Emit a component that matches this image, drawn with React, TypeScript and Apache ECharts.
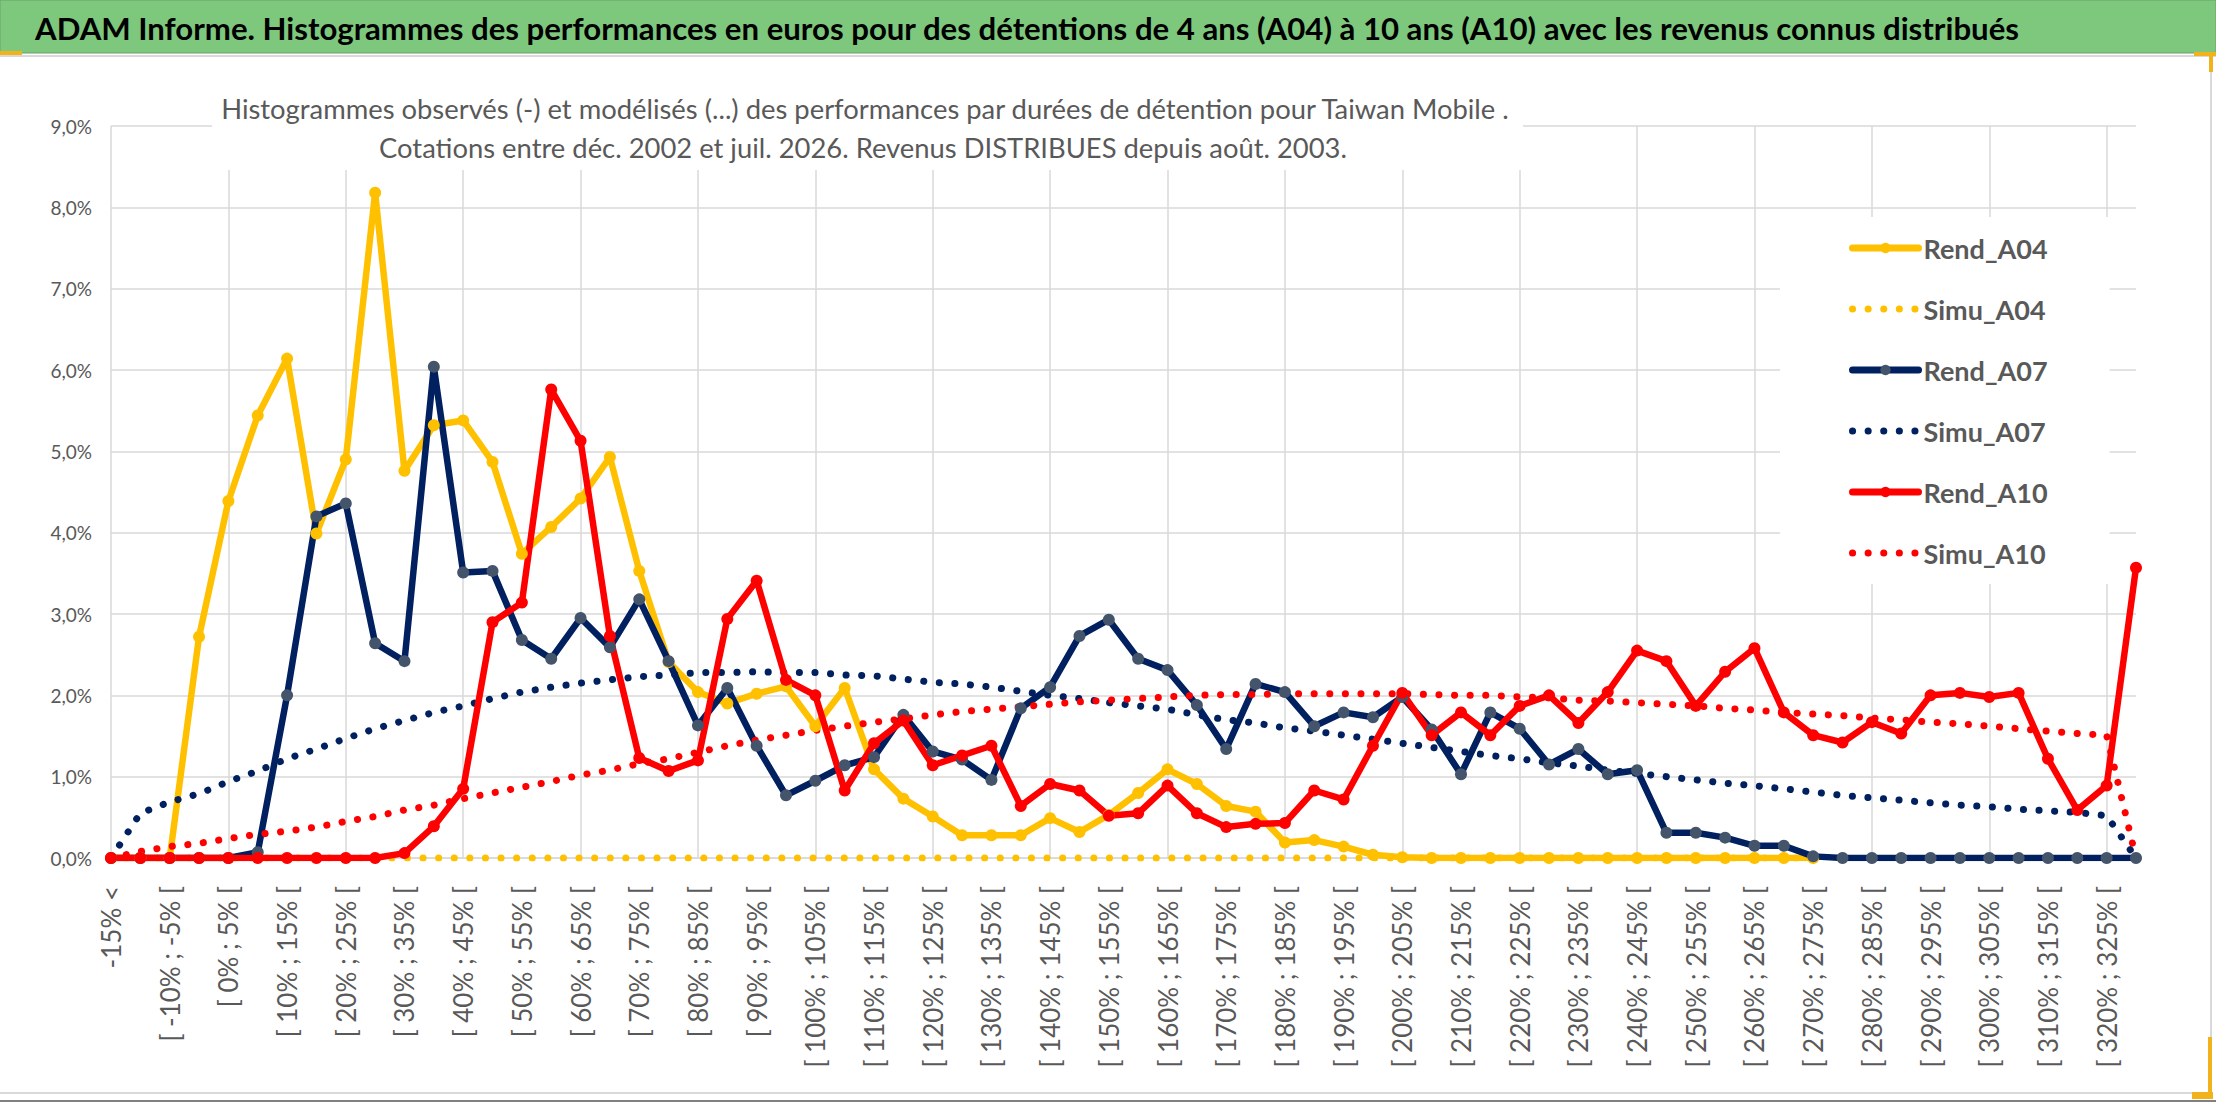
import React, { useEffect, useRef } from "react";
import * as echarts from "echarts";

const categories = [
  "-15% <",
  "[ -15% ; -10% [", "[ -10% ; -5% [", "[ -5% ; 0% [", "[ 0% ; 5% [", "[ 5% ; 10% [",
  "[ 10% ; 15% [", "[ 15% ; 20% [", "[ 20% ; 25% [", "[ 25% ; 30% [", "[ 30% ; 35% [",
  "[ 35% ; 40% [", "[ 40% ; 45% [", "[ 45% ; 50% [", "[ 50% ; 55% [", "[ 55% ; 60% [",
  "[ 60% ; 65% [", "[ 65% ; 70% [", "[ 70% ; 75% [", "[ 75% ; 80% [", "[ 80% ; 85% [",
  "[ 85% ; 90% [", "[ 90% ; 95% [", "[ 95% ; 100% [", "[ 100% ; 105% [", "[ 105% ; 110% [",
  "[ 110% ; 115% [", "[ 115% ; 120% [", "[ 120% ; 125% [", "[ 125% ; 130% [", "[ 130% ; 135% [",
  "[ 135% ; 140% [", "[ 140% ; 145% [", "[ 145% ; 150% [", "[ 150% ; 155% [", "[ 155% ; 160% [",
  "[ 160% ; 165% [", "[ 165% ; 170% [", "[ 170% ; 175% [", "[ 175% ; 180% [", "[ 180% ; 185% [",
  "[ 185% ; 190% [", "[ 190% ; 195% [", "[ 195% ; 200% [", "[ 200% ; 205% [", "[ 205% ; 210% [",
  "[ 210% ; 215% [", "[ 215% ; 220% [", "[ 220% ; 225% [", "[ 225% ; 230% [", "[ 230% ; 235% [",
  "[ 235% ; 240% [", "[ 240% ; 245% [", "[ 245% ; 250% [", "[ 250% ; 255% [", "[ 255% ; 260% [",
  "[ 260% ; 265% [", "[ 265% ; 270% [", "[ 270% ; 275% [", "[ 275% ; 280% [", "[ 280% ; 285% [",
  "[ 285% ; 290% [", "[ 290% ; 295% [", "[ 295% ; 300% [", "[ 300% ; 305% [", "[ 305% ; 310% [",
  "[ 310% ; 315% [", "[ 315% ; 320% [", "[ 320% ; 325% [", "[ 325% ; 330% [",
];

const rendA04 = [
  0, 0, 0, 2.72, 4.39, 5.44, 6.14, 3.99, 4.9, 8.18,
  4.76, 5.32, 5.38, 4.87, 3.74, 4.07, 4.42, 4.93, 3.53, 2.41,
  2.04, 1.9, 2.02, 2.11, 1.62, 2.09, 1.09, 0.73, 0.51, 0.28,
  0.28, 0.28, 0.49, 0.32, 0.53, 0.8, 1.09, 0.91, 0.64, 0.57,
  0.19, 0.22, 0.14, 0.04, 0.01, 0, 0, 0, 0, 0,
  0, 0, 0, 0, 0, 0, 0, 0, 0, null,
  null, null, null, null, null, null, null, null, null, null,
];

const simuA04 = [
  0, 0, 0, 0, 0, 0, 0, 0, 0, 0,
  0, 0, 0, 0, 0, 0, 0, 0, 0, 0,
  0, 0, 0, 0, 0, 0, 0, 0, 0, 0,
  0, 0, 0, 0, 0, 0, 0, 0, 0, 0,
  0, 0, 0, 0, 0, 0, 0, 0, 0, 0,
  0, 0, 0, 0, 0, 0, 0, 0, 0, null,
  null, null, null, null, null, null, null, null, null, null,
];

const rendA07 = [
  0, 0, 0, 0, 0, 0.07, 2.0, 4.2, 4.36, 2.64,
  2.42, 6.04, 3.51, 3.53, 2.68, 2.45, 2.95, 2.59, 3.18, 2.42,
  1.63, 2.09, 1.38, 0.77, 0.95, 1.14, 1.24, 1.76, 1.31, 1.21,
  0.96, 1.84, 2.1, 2.73, 2.93, 2.45, 2.31, 1.88, 1.34, 2.14,
  2.04, 1.62, 1.79, 1.73, 1.98, 1.58, 1.03, 1.79, 1.59, 1.15,
  1.34, 1.03, 1.08, 0.31, 0.31, 0.25, 0.15, 0.15, 0.02, 0,
  0, 0, 0, 0, 0, 0, 0, 0, 0, 0,
];

const simuA07 = [
  0, 0.55, 0.69, 0.79, 0.94, 1.07, 1.22, 1.34, 1.47, 1.59,
  1.69, 1.79, 1.87, 1.96, 2.04, 2.1, 2.15, 2.19, 2.23, 2.25,
  2.28, 2.28, 2.29, 2.28, 2.28, 2.25, 2.24, 2.2, 2.16, 2.14,
  2.1, 2.05, 2.0, 1.96, 1.91, 1.87, 1.83, 1.76, 1.7, 1.66,
  1.6, 1.56, 1.51, 1.46, 1.41, 1.36, 1.31, 1.26, 1.22, 1.17,
  1.13, 1.08, 1.04, 1.0, 0.96, 0.92, 0.89, 0.85, 0.81, 0.77,
  0.74, 0.71, 0.68, 0.65, 0.63, 0.6, 0.58, 0.56, 0.52, 0,
];

const rendA10 = [
  0, 0, 0, 0, 0, 0, 0, 0, 0, 0,
  0.06, 0.39, 0.85, 2.9, 3.14, 5.76, 5.13, 2.73, 1.23, 1.07,
  1.2, 2.94, 3.41, 2.19, 2.0, 0.83, 1.41, 1.69, 1.14, 1.26,
  1.38, 0.64, 0.91, 0.83, 0.52, 0.55, 0.89, 0.55, 0.38, 0.42,
  0.43, 0.83, 0.72, 1.38, 2.03, 1.51, 1.79, 1.51, 1.87, 2.0,
  1.66, 2.04, 2.55, 2.42, 1.87, 2.29, 2.58, 1.79, 1.51, 1.42,
  1.67, 1.53, 2.0, 2.03, 1.98, 2.03, 1.22, 0.59, 0.89, 3.57,
];

const simuA10 = [
  0, 0.08, 0.14, 0.18, 0.24, 0.29, 0.33, 0.38, 0.45, 0.51,
  0.59, 0.65, 0.73, 0.8, 0.87, 0.94, 1.02, 1.08, 1.16, 1.22,
  1.3, 1.38, 1.45, 1.51, 1.57, 1.62, 1.67, 1.71, 1.76, 1.8,
  1.83, 1.86, 1.89, 1.92, 1.94, 1.96, 1.98, 2.0, 2.01, 2.01,
  2.02, 2.02, 2.02, 2.02, 2.02, 2.01, 2.0, 2.0, 1.98, 1.97,
  1.94, 1.93, 1.91, 1.89, 1.87, 1.84, 1.82, 1.79, 1.77, 1.75,
  1.72, 1.7, 1.67, 1.65, 1.62, 1.59, 1.56, 1.53, 1.51, 0,
];

const TITLE =
  "ADAM Informe. Histogrammes des performances en euros pour des détentions de 4 ans (A04) à 10 ans (A10) avec les revenus connus distribués";
const SUB1 =
  "Histogrammes observés (-) et modélisés (...) des performances par durées de détention pour Taiwan Mobile .";
const SUB2 = "Cotations entre déc. 2002 et juil. 2026. Revenus DISTRIBUES depuis août. 2003.";

const YELLOW = "#FFC000";
const NAVY = "#002060";
const NAVY_MARK = "#44546A";
const RED = "#FF0000";
const GRID = "#D9D9D9";
const TEXT = "#595959";

function fitFontSize(text: string, weight: string, family: string, targetWidth: number): number {
  const ctx = document.createElement("canvas").getContext("2d");
  if (!ctx) return 30;
  ctx.font = `${weight} 100px ${family}`;
  const w = ctx.measureText(text).width;
  return w > 0 ? (100 * targetWidth) / w : 30;
}

function rend(name: string, data: (number | null)[], color: string, mark: string) {
  return {
    name,
    type: "line",
    data,
    symbol: "circle",
    symbolSize: 12,
    showSymbol: true,
    connectNulls: false,
    lineStyle: { color, width: 6.5, cap: "round", join: "round" },
    itemStyle: { color: mark, borderWidth: 0 },
    emphasis: { disabled: true },
  };
}

function simu(name: string, data: (number | null)[], color: string) {
  return {
    name,
    type: "line",
    data,
    symbol: "none",
    lineStyle: { color, width: 7, type: [0.1, 15.5], cap: "round", join: "round" },
    itemStyle: { color },
    emphasis: { disabled: true },
  };
}

export default function App() {
  const ref = useRef<HTMLDivElement>(null);
  useEffect(() => {
    if (!ref.current) return;
    const chart = echarts.init(ref.current, undefined, { renderer: "svg" });
    const titleSize = fitFontSize(TITLE, "bold", "Lato", 1985);
    const subSize = fitFontSize(SUB1, "normal", "Lato", 1290);
    const legendRend = { lineStyle: { width: 7 }, itemStyle: { borderWidth: 0 } };
    const legendSimu = { lineStyle: { width: 7 }, itemStyle: { opacity: 0 } };
    const option = {
      animation: false,
      backgroundColor: "#FFFFFF",
      textStyle: { fontFamily: "Lato" },
      grid: { left: 111, right: 80, top: 126, bottom: 244, containLabel: false },
      xAxis: {
        type: "category",
        data: categories,
        boundaryGap: false,
        axisLine: { show: true, lineStyle: { color: GRID, width: 1.5 } },
        axisTick: { show: false },
        axisLabel: {
          interval: 1,
          rotate: 90,
          margin: 28,
          color: TEXT,
          fontFamily: "Lato",
          fontSize: 26,
        },
        splitLine: { show: true, interval: 3, lineStyle: { color: GRID, width: 1.5 } },
      },
      yAxis: {
        type: "value",
        min: 0,
        max: 9,
        interval: 1,
        axisLine: { show: false },
        axisTick: { show: false },
        axisLabel: {
          margin: 19,
          color: TEXT,
          fontFamily: "Lato",
          fontSize: 19,
          formatter: (v: number) => v.toFixed(1).replace(".", ",") + "%",
        },
        splitLine: { show: true, lineStyle: { color: GRID, width: 1.5 } },
      },
      legend: {
        orient: "vertical",
        left: 1780,
        top: 217,
        padding: [16, 62, 16, 69],
        itemWidth: 66,
        itemHeight: 13,
        itemGap: 31,
        backgroundColor: "#FFFFFF",
        textStyle: {
          color: TEXT,
          fontFamily: "Lato",
          fontWeight: "bold",
          fontSize: 27,
          lineHeight: 30,
        },
        data: [
          { name: "Rend_A04", ...legendRend },
          { name: "Simu_A04", ...legendSimu },
          { name: "Rend_A07", ...legendRend },
          { name: "Simu_A07", ...legendSimu },
          { name: "Rend_A10", ...legendRend },
          { name: "Simu_A10", ...legendSimu },
        ],
      },
      series: [
        rend("Rend_A04", rendA04, YELLOW, YELLOW),
        simu("Simu_A04", simuA04, YELLOW),
        rend("Rend_A07", rendA07, NAVY, NAVY_MARK),
        simu("Simu_A07", simuA07, NAVY),
        rend("Rend_A10", rendA10, RED, RED),
        simu("Simu_A10", simuA10, RED),
      ],
      graphic: [
        {
          type: "rect",
          z: 10,
          silent: true,
          shape: { x: 0, y: 0, width: 2216, height: 53 },
          style: { fill: "#7EC87E", stroke: "#6A9F6A", lineWidth: 1 },
        },
        {
          type: "text",
          z: 11,
          silent: true,
          x: 35,
          y: 28,
          style: {
            text: TITLE,
            fill: "#000000",
            font: `bold ${titleSize.toFixed(2)}px Lato`,
            textAlign: "left",
            textVerticalAlign: "middle",
          },
        },
        {
          type: "line",
          z: 10,
          silent: true,
          shape: { x1: 0, y1: 56, x2: 2216, y2: 56 },
          style: { stroke: GRID, lineWidth: 2 },
        },
        {
          type: "rect",
          z: 10,
          silent: true,
          shape: { x: 212, y: 60, width: 1311, height: 110 },
          style: { fill: "#FFFFFF" },
        },
        {
          type: "text",
          z: 11,
          silent: true,
          x: 865,
          y: 108,
          style: {
            text: SUB1,
            fill: TEXT,
            font: `${subSize.toFixed(2)}px Lato`,
            textAlign: "center",
            textVerticalAlign: "middle",
          },
        },
        {
          type: "text",
          z: 11,
          silent: true,
          x: 863,
          y: 147,
          style: {
            text: SUB2,
            fill: TEXT,
            font: `${subSize.toFixed(2)}px Lato`,
            textAlign: "center",
            textVerticalAlign: "middle",
          },
        },
        {
          type: "line",
          z: 10,
          silent: true,
          shape: { x1: 2211, y1: 55, x2: 2211, y2: 1093 },
          style: { stroke: GRID, lineWidth: 2 },
        },
        {
          type: "line",
          z: 10,
          silent: true,
          shape: { x1: 0, y1: 1093, x2: 2212, y2: 1093 },
          style: { stroke: GRID, lineWidth: 2 },
        },
        {
          type: "line",
          z: 10,
          silent: true,
          shape: { x1: 0, y1: 1101, x2: 2216, y2: 1101 },
          style: { stroke: "#808080", lineWidth: 2 },
        },
        {
          type: "rect",
          z: 12,
          silent: true,
          shape: { x: 0, y: 51, width: 22, height: 4 },
          style: { fill: "#F2B21B" },
        },
        {
          type: "rect",
          z: 12,
          silent: true,
          shape: { x: 2194, y: 52, width: 22, height: 4 },
          style: { fill: "#F2B21B" },
        },
        {
          type: "rect",
          z: 12,
          silent: true,
          shape: { x: 2209, y: 52, width: 4, height: 20 },
          style: { fill: "#F2B21B" },
        },
        {
          type: "rect",
          z: 12,
          silent: true,
          shape: { x: 2208, y: 1037, width: 4, height: 62 },
          style: { fill: "#F2B21B" },
        },
        {
          type: "rect",
          z: 12,
          silent: true,
          shape: { x: 2192, y: 1092, width: 21, height: 7 },
          style: { fill: "#F2B21B" },
        },
      ],
    };
    chart.setOption(option as any);
    return () => chart.dispose();
  }, []);
  return (
    <div
      ref={ref}
      style={{ position: "absolute", left: 0, top: 0, width: 2216, height: 1102 }}
    />
  );
}
